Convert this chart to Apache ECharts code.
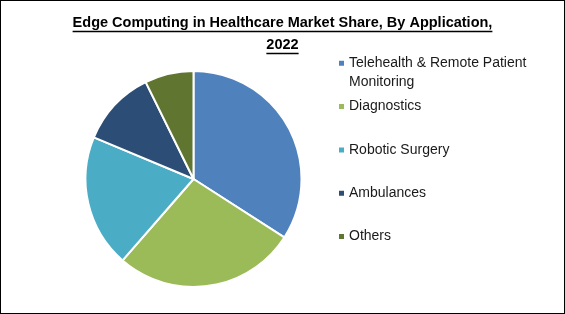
<!DOCTYPE html>
<html>
<head>
<meta charset="utf-8">
<script src="https://cdn.jsdelivr.net/npm/echarts@6/dist/echarts.min.js"></script>
<style>
html,body{margin:0;padding:0;background:#fff;}
#frame{position:absolute;left:0;top:0;width:563px;height:312px;border:1px solid #000;}
#chart{position:absolute;left:0;top:0;width:565px;height:314px;}
</style>
</head>
<body>
<div id="chart"></div>
<div id="frame"></div>
<script>
// ---- data ----
const titleLines = ['Edge Computing in Healthcare Market Share, By Application,', '2022'];
const categories = ['Telehealth & Remote Patient Monitoring', 'Diagnostics', 'Robotic Surgery', 'Ambulances', 'Others'];
const legendLabels = ['Telehealth & Remote Patient\nMonitoring', 'Diagnostics', 'Robotic Surgery', 'Ambulances', 'Others'];
const shares = [34.1, 27.3, 19.9, 11.4, 7.3];
const colors = ['#4f81bd', '#9bbb59', '#4bacc6', '#2c4d75', '#5f7530'];

// ---- layout ----
const W = 565;
const titleFS = 14.5;
const titleFont = 'bold ' + titleFS + 'px "Liberation Sans"';
const titleTop = 12, titleLH = 22;
const legendFont = 'Liberation Sans';
const legendFS = 14, legendLH = 19;
const legendX = 337, legendY0 = 63.3, legendStep = 43.3;
const mk = 7;

const chart = echarts.init(document.getElementById('chart'), null, {renderer: 'canvas'});

// measure title lines for underlines
const cv = document.createElement('canvas').getContext('2d');
cv.font = titleFont;
const underlines = titleLines.map((t, i) => {
  const w = cv.measureText(t).width;
  const y = titleTop + titleLH * i + titleLH / 2 + 8.5;
  return {
    type: 'line',
    shape: {x1: W / 2 - w / 2, y1: y, x2: W / 2 + w / 2, y2: y},
    style: {stroke: '#000', lineWidth: 1.3}
  };
});

const legends = categories.map((name, i) => {
  const multi = legendLabels[i].indexOf('\n') >= 0;
  const y = legendY0 + legendStep * i;
  return {
    orient: 'vertical',
    left: legendX,
    top: multi ? y - legendLH * 1.5 : y - legendLH / 2,
    padding: 0,
    itemWidth: mk, itemHeight: mk, itemGap: 0,
    selectedMode: false,
    icon: 'rect',
    data: [name],
    formatter: () => multi ? ' \n' + legendLabels[i] : legendLabels[i],
    textStyle: {fontFamily: legendFont, fontSize: legendFS, lineHeight: legendLH, color: '#1a1a1a', padding: [0, 0, 0, -1]}
  };
});

chart.setOption({
  animation: false,
  backgroundColor: '#fff',
  title: {
    text: titleLines.join('\n'),
    left: 'center',
    top: titleTop,
    padding: 0,
    textStyle: {fontFamily: 'Liberation Sans', fontWeight: 'bold', fontSize: titleFS, lineHeight: titleLH, color: '#000'}
  },
  legend: legends,
  graphic: underlines,
  series: [{
    type: 'pie',
    center: [193.5, 179],
    radius: 108,
    startAngle: 90,
    clockwise: true,
    label: {show: false},
    labelLine: {show: false},
    itemStyle: {borderColor: '#fff', borderWidth: 2},
    emphasis: {disabled: true},
    data: categories.map((c, i) => ({name: c, value: shares[i], itemStyle: {color: colors[i]}}))
  }]
});
</script>
</body>
</html>
